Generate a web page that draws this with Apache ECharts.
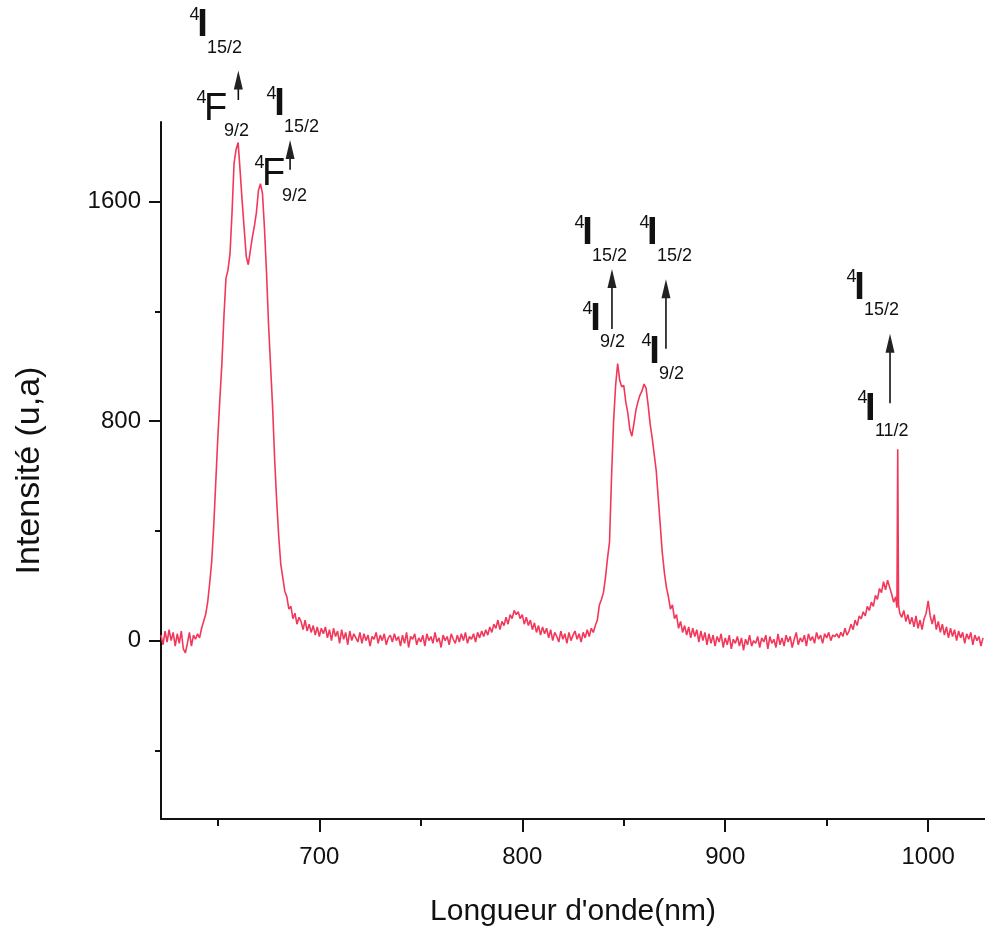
<!DOCTYPE html>
<html><head><meta charset="utf-8">
<script src="https://cdn.jsdelivr.net/npm/echarts@6/dist/echarts.min.js"></script>
<style>html,body{margin:0;padding:0;background:#fff}#c{width:985px;height:932px}</style>
</head><body><div id="c"></div>
<script>
// ---- axis ticks ----
const xMajorTicks = [700, 800, 900, 1000];
const xMinorTicks = [650, 750, 850, 950];
const yMajorTicks = [0, 800, 1600];
const yMinorTicks = [-400, 400, 1200];

// ---- spectrum [wavelength nm, intensity u.a.] ----
const baselineStart = [[622,20],[623,-15],[624,35],[625,-5],[626,40],[627,0],[628,30],[629,-20],[630,25],[631,-10],[632,35],[633,-30],[634,-45],[635,-10],[636,30],[637,-20],[638,20],[639,5],[640,25],[641,10]];
const peak660 = [[642,45],[643,70],[644,95],[645,140],[646,210],[647,290],[648,420],[649,580],[650,740],[651,880],[652,1010],[653,1180],[654,1320],[655,1350],[656,1410],[657,1560],[658,1740],[659,1790],[660,1815],[661,1710],[662,1600],[663,1500],[664,1400],[665,1370],[666,1420],[667,1470],[668,1510],[669,1560],[670,1640],[671,1665],[672,1630],[673,1500],[674,1340],[675,1150],[676,1000],[677,850],[678,660],[679,510],[680,380],[681,280],[682,230],[683,180],[684,160],[685,115],[686,125],[687,80],[688,100],[689,60],[690,85]];
const baselineMid = [[691,70],[692,40],[693,75],[694,35],[695,60],[696,30],[697,55],[698,20],[699,50],[700,15],[701,45],[702,25],[703,50],[704,10],[705,40],[706,0],[707,45],[708,15],[709,35],[710,-10],[711,40],[712,5],[713,30],[714,-15],[715,35],[716,0],[717,25],[718,10],[719,-5],[720,30],[721,-10],[722,25],[723,0],[724,20],[725,-20],[726,15],[727,5],[728,30],[729,-10],[730,20],[731,0],[732,25],[733,-15],[734,10],[735,20],[736,-5],[737,25],[738,0],[739,15],[740,-20],[741,20],[742,-10],[743,30],[744,-25],[745,15],[746,5],[747,25],[748,-15],[749,10],[750,-5],[751,20],[752,-20],[753,25],[754,0],[755,15],[756,-10],[757,30],[758,-5],[759,10],[760,-25],[761,20],[762,0],[763,15],[764,-15],[765,25],[766,5],[767,-10],[768,20],[769,-5],[770,25],[771,0],[772,30],[773,-10],[774,15],[775,5],[776,25],[777,-5],[778,30],[779,10],[780,35]];
const hump800 = [[781,15],[782,40],[783,20],[784,50],[785,30],[786,60],[787,45],[788,75],[789,40],[790,70],[791,55],[792,85],[793,60],[794,95],[795,80],[796,110],[797,95],[798,105],[799,80],[800,95],[801,60],[802,85],[803,55],[804,75],[805,40],[806,65],[807,30],[808,55],[809,20],[810,50],[811,25],[812,45],[813,10],[814,40],[815,0],[816,30],[817,15],[818,-5],[819,35],[820,5],[821,25],[822,-10],[823,30],[824,0],[825,20],[826,35],[827,5],[828,25],[829,-5],[830,30],[831,10],[832,40],[833,15],[834,45],[835,30]];
const peak850 = [[836,55],[837,75],[838,130],[839,150],[840,175],[841,230],[842,300],[843,360],[844,600],[845,800],[846,930],[847,1010],[848,950],[849,925],[850,930],[851,870],[852,830],[853,770],[854,745],[855,790],[856,840],[857,870],[858,895],[859,910],[860,935],[861,920],[862,860],[863,790],[864,740],[865,680],[866,620],[867,520],[868,420],[869,320],[870,250],[871,195],[872,160],[873,115],[874,130],[875,80],[876,95],[877,45],[878,70],[879,30],[880,55]];
const baselineRight = [[881,20],[882,50],[883,10],[884,45],[885,15],[886,40],[887,-5],[888,35],[889,0],[890,30],[891,-15],[892,25],[893,-10],[894,20],[895,-20],[896,15],[897,-5],[898,25],[899,-25],[900,10],[901,-15],[902,20],[903,-30],[904,5],[905,-10],[906,15],[907,-20],[908,10],[909,-35],[910,5],[911,-15],[912,20],[913,-20],[914,0],[915,-10],[916,15],[917,-25],[918,10],[919,-5],[920,20],[921,-30],[922,15],[923,-10],[924,5],[925,-25],[926,25],[927,-15],[928,10],[929,-20],[930,20],[931,-5],[932,15],[933,-25],[934,5],[935,30],[936,-15],[937,10],[938,-5],[939,20],[940,-20],[941,25],[942,0],[943,15],[944,-10],[945,30],[946,5],[947,20],[948,-10],[949,25],[950,10],[951,30],[952,0],[953,20],[954,15],[955,25],[956,10],[957,30],[958,15],[959,45],[960,20]];
const peak980 = [[961,35],[962,60],[963,40],[964,75],[965,55],[966,90],[967,80],[968,105],[969,90],[970,125],[971,110],[972,140],[973,125],[974,165],[975,150],[976,190],[977,175],[978,215],[979,185],[980,220],[981,195],[982,170],[983,140],[984,160],[984.6,120],[985,697],[985.4,130],[986,100],[987,85],[988,110],[989,70],[990,95],[991,60],[992,85],[993,50],[994,90],[995,45],[996,75],[997,40],[998,80],[999,100],[1000,145],[1001,90],[1002,60],[1003,95],[1004,40],[1005,70],[1006,30],[1007,60],[1008,20],[1009,50],[1010,10],[1011,45],[1012,15],[1013,40],[1014,0],[1015,35],[1016,10],[1017,30],[1018,-10],[1019,25],[1020,5],[1021,30],[1022,-15],[1023,20],[1024,0],[1025,15],[1026,-20],[1027,10]];

// ---- transition annotations: [superscript, letter, subscript, nm, intensity] ----
const levelLabels = [
  ['4','I','15/2', 641.2, 2240],
  ['4','F','9/2', 644.7, 1937],
  ['4','I','15/2', 679.2, 1952],
  ['4','F','9/2', 673.2, 1700],
  ['4','I','15/2', 830.9, 1482],
  ['4','I','15/2', 862.9, 1482],
  ['4','I','9/2', 834.9, 1169],
  ['4','I','9/2', 863.9, 1051],
  ['4','I','15/2', 964.9, 1285],
  ['4','I','11/2', 970.3, 843]
];
// arrows: [nm, start intensity, tip intensity]
const arrows = [[660.1,1970,2078],[685.6,1716,1824],[844.2,1136,1354],[870.8,1064,1317],[981.2,865,1118]];

const spectrum = [].concat(baselineStart, peak660, baselineMid, hump800, peak850, baselineRight, peak980);

const FONT = "'Liberation Sans', Arial, sans-serif";
const chart = echarts.init(document.getElementById('c'), null, {renderer: 'canvas'});
const axisCommon = {
  type: 'value', min: 622, max: 1028, splitLine: {show: false}
};
const plain = function (v) { return String(v); };
chart.setOption({
  animation: false,
  backgroundColor: '#fff',
  grid: {left: 161, right: 0, top: 122, bottom: 109, containLabel: false},
  xAxis: [
    Object.assign({}, axisCommon, {
      position: 'bottom',
      name: "Longueur d'onde(nm)", nameLocation: 'middle', nameGap: 78,
      nameTextStyle: {fontFamily: FONT, fontSize: 30, color: '#111'},
      axisLine: {onZero: false, lineStyle: {color: '#111', width: 2}},
      axisTick: {customValues: xMajorTicks, length: 13, lineStyle: {color: '#111', width: 2}},
      axisLabel: {customValues: xMajorTicks, formatter: plain, fontFamily: FONT, fontSize: 24, color: '#111', margin: 26}
    }),
    Object.assign({}, axisCommon, {
      position: 'bottom',
      axisLine: {show: false, onZero: false},
      axisTick: {customValues: xMinorTicks, length: 7, lineStyle: {color: '#111', width: 2}},
      axisLabel: {show: false}
    })
  ],
  yAxis: [
    {
      type: 'value', min: -650, max: 1890, position: 'left', splitLine: {show: false},
      name: 'Intensité (u,a)', nameLocation: 'middle', nameGap: 114, nameRotate: 90,
      nameTextStyle: {fontFamily: FONT, fontSize: 34, color: '#111'},
      axisLine: {onZero: false, lineStyle: {color: '#111', width: 2}},
      axisTick: {customValues: yMajorTicks, length: 12, lineStyle: {color: '#111', width: 2}},
      axisLabel: {customValues: yMajorTicks, formatter: plain, fontFamily: FONT, fontSize: 24, color: '#111', margin: 20}
    },
    {
      type: 'value', min: -650, max: 1890, position: 'left', splitLine: {show: false},
      axisLine: {show: false, onZero: false},
      axisTick: {customValues: yMinorTicks, length: 6, lineStyle: {color: '#111', width: 2}},
      axisLabel: {show: false}
    }
  ],
  series: [{
    type: 'line', xAxisIndex: 0, yAxisIndex: 0, data: spectrum,
    showSymbol: false, symbol: 'none',
    lineStyle: {color: '#f2385a', width: 1.6}
  }]
});

function px(nm, v) { return chart.convertToPixel({xAxisIndex: 0, yAxisIndex: 0}, [nm, v]); }
function txt(s, x, y, size, weight) {
  const w = weight || 'normal';
  return {type: 'text', x: x, y: y, silent: true,
    style: {text: s, font: w + ' ' + size + 'px ' + FONT, fontSize: size, fontWeight: w, fontFamily: FONT, fill: '#111',
      align: 'left', verticalAlign: 'middle', textAlign: 'left', textVerticalAlign: 'middle'}};
}
const g = [];
levelLabels.forEach(function (l) {
  const p = px(l[3], l[4]);
  const inkL = p[0], cy = p[1];
  const isI = l[1] === 'I';
  const bear = isI ? 2.8 : 3;
  const w = isI ? 7.5 : 17.5;
  g.push(txt(l[1], inkL - bear, cy, isI ? 38 : 38, isI ? 'bold' : 'normal'));
  g.push(txt(l[0], inkL - 10.5, cy - 11, 18));
  g.push(txt(l[2], inkL + w - 0.5, cy + 22, 18));
});
arrows.forEach(function (a) {
  const s = px(a[0], a[1]), t = px(a[0], a[2]);
  const head = 19, hw = 4.5;
  g.push({type: 'line', silent: true, shape: {x1: s[0], y1: s[1], x2: t[0], y2: t[1] + head - 2},
    style: {stroke: '#111', lineWidth: 1.6}});
  g.push({type: 'polygon', silent: true,
    shape: {points: [[t[0], t[1]], [t[0] - hw, t[1] + head], [t[0] + hw, t[1] + head]]},
    style: {fill: '#222'}});
});
chart.setOption({graphic: g});
</script></body></html>
